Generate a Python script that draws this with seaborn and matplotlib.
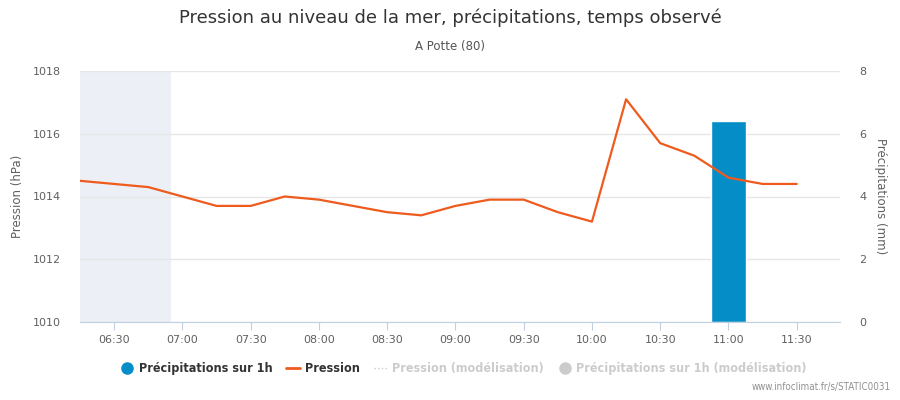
import numpy as np, pandas as pd
import seaborn as sns
import matplotlib.pyplot as plt
from matplotlib.lines import Line2D

# pressure every 15 min from 06:15 to 11:30
times = ['06:15','06:30','06:45','07:00','07:15','07:30','07:45','08:00','08:15','08:30','08:45',
         '09:00','09:15','09:30','09:45','10:00','10:15','10:30','10:45','11:00','11:15','11:30']
pression = [1014.5,1014.4,1014.3,1014.0,1013.7,1013.7,1014.0,1013.9,1013.7,1013.5,1013.4,
            1013.7,1013.9,1013.9,1013.5,1013.2,1017.1,1015.7,1015.3,1014.6,1014.4,1014.4]
precip_times = ['11:00']
precip = [6.4]
tick_labels = ['06:30','07:00','07:30','08:00','08:30','09:00','09:30','10:00','10:30','11:00','11:30']

def to_min(t):
    h, m = t.split(':')
    return int(h) * 60 + int(m)

df = pd.DataFrame({'t': [to_min(t) for t in times], 'p': pression})

sns.set_style('white')
plt.rcParams['font.family'] = ['DejaVu Sans']

fig = plt.figure(figsize=(9, 4), dpi=100)
ax = fig.add_axes([0.0889, 0.195, 0.8444, 0.6275])
ax2 = ax.twinx()

# shaded night band + grid + bar live on the lower axes
ax2.axvspan(to_min('06:15') - 1, to_min('06:55'), color='#eceff6', zorder=0, lw=0)
ax2.set_axisbelow(True)
ax2.grid(axis='y', color='#e6e6e6', lw=1, zorder=1)
ax2.bar([to_min(t) for t in precip_times], precip, width=15, color='#058dc7', zorder=2)

sns.lineplot(data=df, x='t', y='p', ax=ax, color='#ef5a1d', lw=1.6, zorder=3)
ax.set_zorder(ax2.get_zorder() + 1)
ax.patch.set_visible(False)

ax.set_xlim(to_min('06:15'), to_min('11:49'))
ax.set_ylim(1010, 1018)
ax2.set_ylim(0, 8)
ax.set_yticks([1010, 1012, 1014, 1016, 1018])
ax2.set_yticks([0, 2, 4, 6, 8])
ax.set_xticks([to_min(t) for t in tick_labels])
ax.set_xticklabels(tick_labels)

ax.grid(False)
for a in (ax, ax2):
    for s in a.spines.values():
        s.set_visible(False)
ax.spines['bottom'].set_visible(True)
ax.spines['bottom'].set_color('#c0d0e0')
ax.tick_params(axis='x', colors='#c0d0e0', labelcolor='#606060', labelsize=8, length=6, direction='out', bottom=True)
ax.tick_params(axis='y', labelcolor='#606060', labelsize=8, length=0, pad=14)
ax2.tick_params(axis='y', labelcolor='#606060', labelsize=8, length=0, pad=14)

ax.set_xlabel('')
ax.set_ylabel('Pression (hPa)', color='#606060', fontsize=8.5, labelpad=6)
ax2.set_ylabel('Précipitations (mm)', color='#606060', fontsize=8.5, rotation=270)
ax2.yaxis.set_label_coords(1.062, 0.5)

fig.text(0.5, 0.955, 'Pression au niveau de la mer, précipitations, temps observé',
         ha='center', va='center', fontsize=13, color='#333333')
fig.text(0.5, 0.883, 'A Potte (80)', ha='center', va='center', fontsize=8.5, color='#555555')
fig.text(0.99, 0.02, 'www.infoclimat.fr/s/STATIC0031', ha='right', va='bottom', fontsize=7,
         color='#909090', fontstretch='condensed')

handles = [
    Line2D([], [], marker='o', ls='', color='#058dc7', markersize=8),
    Line2D([], [], color='#ef5a1d', lw=2),
    Line2D([], [], color='#cccccc', lw=1, ls=':'),
    Line2D([], [], marker='o', ls='', color='#cccccc', markersize=8),
]
labels = ['Précipitations sur 1h', 'Pression', 'Pression (modélisation)', 'Précipitations sur 1h (modélisation)']
leg = fig.legend(handles, labels, loc='center', bbox_to_anchor=(0.515, 0.078), ncol=4, frameon=False,
                 prop={'size': 9, 'weight': 'bold', 'stretch': 'condensed'},
                 handlelength=1.1, handletextpad=0.4, columnspacing=1.1)
for txt, c in zip(leg.get_texts(), ['#333333', '#333333', '#cccccc', '#cccccc']):
    txt.set_color(c)

fig.savefig('out.png', dpi=100)
